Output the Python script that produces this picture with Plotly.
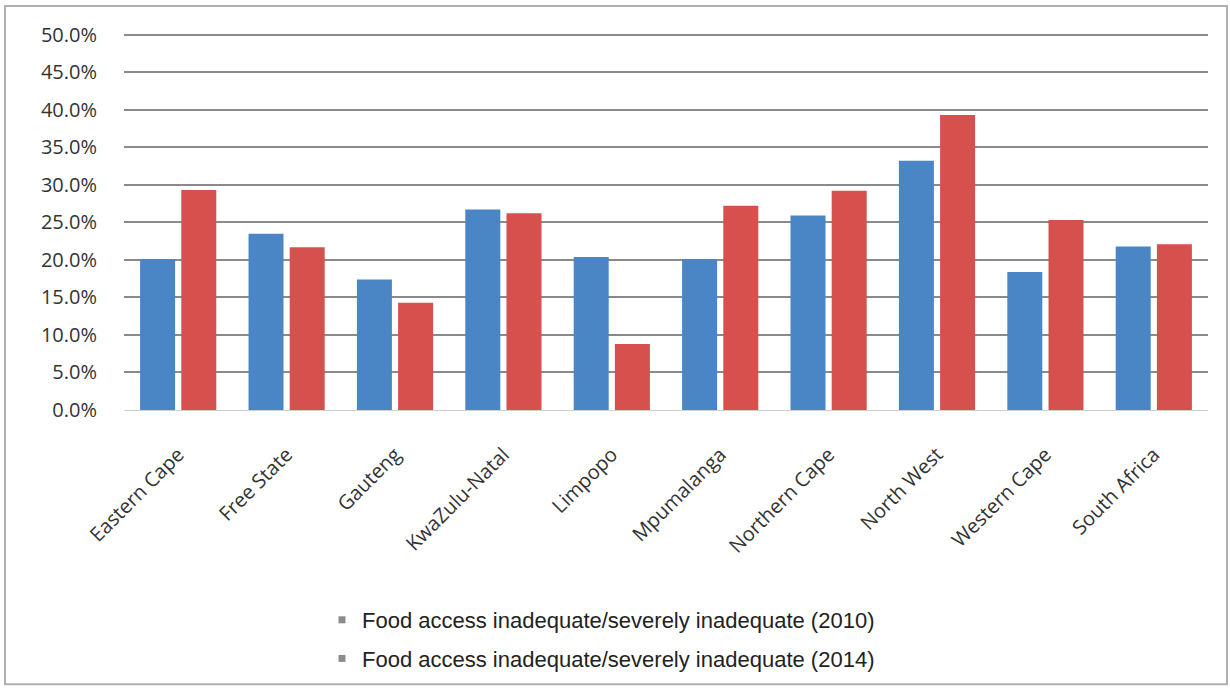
import plotly.graph_objects as go

categories = ["Eastern Cape", "Free State", "Gauteng", "KwaZulu-Natal", "Limpopo",
              "Mpumalanga", "Northern Cape", "North West", "Western Cape", "South Africa"]
values_2010 = [20.1, 23.5, 17.4, 26.7, 20.4, 20.1, 25.9, 33.2, 18.4, 21.8]
values_2014 = [29.3, 21.7, 14.3, 26.2, 8.8, 27.2, 29.2, 39.3, 25.3, 22.1]
series_names = ["Food access inadequate/severely inadequate (2010)",
                "Food access inadequate/severely inadequate (2014)"]
y_ticks = [0, 5, 10, 15, 20, 25, 30, 35, 40, 45, 50]
y_tick_labels = [f"{v:.1f}%" for v in y_ticks]

BLUE = "#4a85c6"
RED = "#d6504d"

W, H = 1230, 690
L, R, T, B = 124, 22, 31, 279
pw, ph = W - L - R, H - T - B

def px_x(x):
    return (x - L) / pw

def px_y(y):
    return (H - B - y) / ph

fig = go.Figure()
fig.add_trace(go.Bar(x=categories, y=values_2010, name=series_names[0],
                     marker=dict(color=BLUE, line=dict(width=0)), showlegend=False))
fig.add_trace(go.Bar(x=categories, y=values_2014, name=series_names[1],
                     marker=dict(color=RED, line=dict(width=0)), showlegend=False))
# legend entries (small grey square swatches as in the reference)
for i, nm in enumerate(series_names):
    fig.add_trace(go.Scatter(x=[None], y=[None], mode="markers", name=nm,
                             legendgroup=f"g{i}",
                             marker=dict(symbol="square", size=7, color="#8c8c8c")))

fig.update_layout(
    width=W, height=H,
    margin=dict(l=L, r=R, t=T, b=B, pad=0),
    paper_bgcolor="white", plot_bgcolor="white",
    barmode="group", bargap=0.24, bargroupgap=0.15,
    font=dict(family="Open Sans, sans-serif", color="#333333"),
    showlegend=True,
    legend=dict(x=px_x(322), y=px_y(599), xanchor="left", yanchor="top",
                orientation="v", tracegroupgap=7,
                font=dict(family="Liberation Sans, Arial, sans-serif", size=22, color="#222222"),
                bgcolor="rgba(0,0,0,0)"),
    xaxis=dict(tickangle=-45, tickfont=dict(size=20, color="#333333"),
               showgrid=False, showline=True, linecolor="#d0d0d0", linewidth=1,
               ticks="outside", ticklen=24, tickcolor="rgba(0,0,0,0)"),
    yaxis=dict(range=[0, 50.5], tickvals=y_ticks, ticktext=y_tick_labels,
               tickfont=dict(size=20, color="#333333"),
               showgrid=True, gridcolor="#8a8a8a", gridwidth=1.5,
               zeroline=False, showline=False,
               ticks="outside", ticklen=22, tickcolor="rgba(0,0,0,0)"),
    shapes=[dict(type="rect", xref="paper", yref="paper",
                 x0=px_x(5), x1=px_x(1227), y0=px_y(686), y1=px_y(6),
                 line=dict(color="#b0b0b0", width=2), fillcolor="rgba(0,0,0,0)",
                 layer="below")],
)

fig.write_html("out.html")
